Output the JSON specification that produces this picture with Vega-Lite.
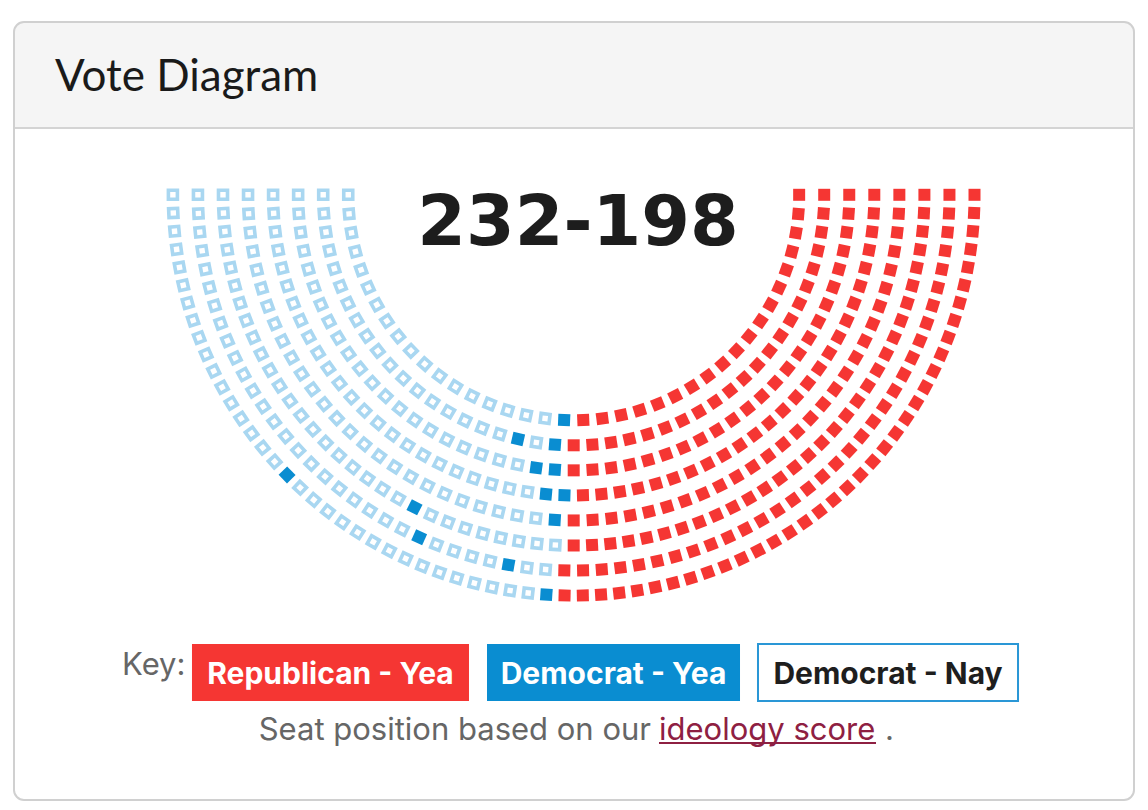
{
"$schema":"https://vega.github.io/schema/vega-lite/v6.json",
"width":1120,"height":778,
"autosize":{"type":"none"},
"padding":{"left":14,"top":22,"right":14,"bottom":10},
"background":"white",
"config":{"view":{"stroke":null},"axis":{"disable":true}},
"layer":[
{"data":{"values":[{}]},
 "mark":{"type":"rect","fill":"#f5f5f5","cornerRadiusTopLeft":10,"cornerRadiusTopRight":10},
 "encoding":{"x":{"value":0},"x2":{"value":"width"},"y":{"datum":6.898,"axis":null},"y2":{"datum":2.667}}},
{"data":{"values":[{}]},
 "mark":{"type":"rule","stroke":"#d4d4d4","strokeWidth":2},
 "encoding":{"x":{"value":0},"x2":{"value":"width"},"y":{"datum":2.667,"axis":null}}},
{"data":{"values":[{"title":"Vote Diagram"}]},
 "mark":{"type":"text","font":"Lato","fontSize":44,"align":"left","baseline":"alphabetic","color":"#1a1a1a"},
 "encoding":{"text":{"field":"title","type":"nominal"},"x":{"datum":-20.707,"axis":null},"y":{"datum":4.156,"axis":null}}},
{"data":{"values":[
{"row":1,"seat":0,"party":"D","vote":"Nay"},{"row":1,"seat":1,"party":"D","vote":"Nay"},{"row":1,"seat":2,"party":"D","vote":"Nay"},{"row":1,"seat":3,"party":"D","vote":"Nay"},{"row":1,"seat":4,"party":"D","vote":"Nay"},{"row":1,"seat":5,"party":"D","vote":"Nay"},{"row":1,"seat":6,"party":"D","vote":"Nay"},{"row":1,"seat":7,"party":"D","vote":"Nay"},{"row":1,"seat":8,"party":"D","vote":"Nay"},{"row":1,"seat":9,"party":"D","vote":"Nay"},{"row":1,"seat":10,"party":"D","vote":"Nay"},{"row":1,"seat":11,"party":"D","vote":"Nay"},{"row":1,"seat":12,"party":"D","vote":"Nay"},{"row":1,"seat":13,"party":"D","vote":"Nay"},{"row":1,"seat":14,"party":"D","vote":"Nay"},{"row":1,"seat":15,"party":"D","vote":"Nay"},{"row":1,"seat":16,"party":"D","vote":"Nay"},{"row":1,"seat":17,"party":"D","vote":"Nay"},{"row":1,"seat":18,"party":"D","vote":"Yea"},
{"row":1,"seat":19,"party":"R","vote":"Yea"},{"row":1,"seat":20,"party":"R","vote":"Yea"},{"row":1,"seat":21,"party":"R","vote":"Yea"},{"row":1,"seat":22,"party":"R","vote":"Yea"},{"row":1,"seat":23,"party":"R","vote":"Yea"},{"row":1,"seat":24,"party":"R","vote":"Yea"},{"row":1,"seat":25,"party":"R","vote":"Yea"},{"row":1,"seat":26,"party":"R","vote":"Yea"},{"row":1,"seat":27,"party":"R","vote":"Yea"},{"row":1,"seat":28,"party":"R","vote":"Yea"},{"row":1,"seat":29,"party":"R","vote":"Yea"},{"row":1,"seat":30,"party":"R","vote":"Yea"},{"row":1,"seat":31,"party":"R","vote":"Yea"},{"row":1,"seat":32,"party":"R","vote":"Yea"},{"row":1,"seat":33,"party":"R","vote":"Yea"},{"row":1,"seat":34,"party":"R","vote":"Yea"},{"row":1,"seat":35,"party":"R","vote":"Yea"},{"row":1,"seat":36,"party":"R","vote":"Yea"},{"row":1,"seat":37,"party":"R","vote":"Yea"},
{"row":2,"seat":0,"party":"D","vote":"Nay"},{"row":2,"seat":1,"party":"D","vote":"Nay"},{"row":2,"seat":2,"party":"D","vote":"Nay"},{"row":2,"seat":3,"party":"D","vote":"Nay"},{"row":2,"seat":4,"party":"D","vote":"Nay"},{"row":2,"seat":5,"party":"D","vote":"Nay"},{"row":2,"seat":6,"party":"D","vote":"Nay"},{"row":2,"seat":7,"party":"D","vote":"Nay"},{"row":2,"seat":8,"party":"D","vote":"Nay"},{"row":2,"seat":9,"party":"D","vote":"Nay"},{"row":2,"seat":10,"party":"D","vote":"Nay"},{"row":2,"seat":11,"party":"D","vote":"Nay"},{"row":2,"seat":12,"party":"D","vote":"Nay"},{"row":2,"seat":13,"party":"D","vote":"Nay"},{"row":2,"seat":14,"party":"D","vote":"Nay"},{"row":2,"seat":15,"party":"D","vote":"Nay"},{"row":2,"seat":16,"party":"D","vote":"Nay"},{"row":2,"seat":17,"party":"D","vote":"Nay"},{"row":2,"seat":18,"party":"D","vote":"Yea"},{"row":2,"seat":19,"party":"D","vote":"Nay"},{"row":2,"seat":20,"party":"D","vote":"Yea"},
{"row":2,"seat":21,"party":"R","vote":"Yea"},{"row":2,"seat":22,"party":"R","vote":"Yea"},{"row":2,"seat":23,"party":"R","vote":"Yea"},{"row":2,"seat":24,"party":"R","vote":"Yea"},{"row":2,"seat":25,"party":"R","vote":"Yea"},{"row":2,"seat":26,"party":"R","vote":"Yea"},{"row":2,"seat":27,"party":"R","vote":"Yea"},{"row":2,"seat":28,"party":"R","vote":"Yea"},{"row":2,"seat":29,"party":"R","vote":"Yea"},{"row":2,"seat":30,"party":"R","vote":"Yea"},{"row":2,"seat":31,"party":"R","vote":"Yea"},{"row":2,"seat":32,"party":"R","vote":"Yea"},{"row":2,"seat":33,"party":"R","vote":"Yea"},{"row":2,"seat":34,"party":"R","vote":"Yea"},{"row":2,"seat":35,"party":"R","vote":"Yea"},{"row":2,"seat":36,"party":"R","vote":"Yea"},{"row":2,"seat":37,"party":"R","vote":"Yea"},{"row":2,"seat":38,"party":"R","vote":"Yea"},{"row":2,"seat":39,"party":"R","vote":"Yea"},{"row":2,"seat":40,"party":"R","vote":"Yea"},{"row":2,"seat":41,"party":"R","vote":"Yea"},{"row":2,"seat":42,"party":"R","vote":"Yea"},
{"row":3,"seat":0,"party":"D","vote":"Nay"},{"row":3,"seat":1,"party":"D","vote":"Nay"},{"row":3,"seat":2,"party":"D","vote":"Nay"},{"row":3,"seat":3,"party":"D","vote":"Nay"},{"row":3,"seat":4,"party":"D","vote":"Nay"},{"row":3,"seat":5,"party":"D","vote":"Nay"},{"row":3,"seat":6,"party":"D","vote":"Nay"},{"row":3,"seat":7,"party":"D","vote":"Nay"},{"row":3,"seat":8,"party":"D","vote":"Nay"},{"row":3,"seat":9,"party":"D","vote":"Nay"},{"row":3,"seat":10,"party":"D","vote":"Nay"},{"row":3,"seat":11,"party":"D","vote":"Nay"},{"row":3,"seat":12,"party":"D","vote":"Nay"},{"row":3,"seat":13,"party":"D","vote":"Nay"},{"row":3,"seat":14,"party":"D","vote":"Nay"},{"row":3,"seat":15,"party":"D","vote":"Nay"},{"row":3,"seat":16,"party":"D","vote":"Nay"},{"row":3,"seat":17,"party":"D","vote":"Nay"},{"row":3,"seat":18,"party":"D","vote":"Nay"},{"row":3,"seat":19,"party":"D","vote":"Nay"},{"row":3,"seat":20,"party":"D","vote":"Nay"},{"row":3,"seat":21,"party":"D","vote":"Yea"},{"row":3,"seat":22,"party":"D","vote":"Yea"},
{"row":3,"seat":23,"party":"R","vote":"Yea"},{"row":3,"seat":24,"party":"R","vote":"Yea"},{"row":3,"seat":25,"party":"R","vote":"Yea"},{"row":3,"seat":26,"party":"R","vote":"Yea"},{"row":3,"seat":27,"party":"R","vote":"Yea"},{"row":3,"seat":28,"party":"R","vote":"Yea"},{"row":3,"seat":29,"party":"R","vote":"Yea"},{"row":3,"seat":30,"party":"R","vote":"Yea"},{"row":3,"seat":31,"party":"R","vote":"Yea"},{"row":3,"seat":32,"party":"R","vote":"Yea"},{"row":3,"seat":33,"party":"R","vote":"Yea"},{"row":3,"seat":34,"party":"R","vote":"Yea"},{"row":3,"seat":35,"party":"R","vote":"Yea"},{"row":3,"seat":36,"party":"R","vote":"Yea"},{"row":3,"seat":37,"party":"R","vote":"Yea"},{"row":3,"seat":38,"party":"R","vote":"Yea"},{"row":3,"seat":39,"party":"R","vote":"Yea"},{"row":3,"seat":40,"party":"R","vote":"Yea"},{"row":3,"seat":41,"party":"R","vote":"Yea"},{"row":3,"seat":42,"party":"R","vote":"Yea"},{"row":3,"seat":43,"party":"R","vote":"Yea"},{"row":3,"seat":44,"party":"R","vote":"Yea"},{"row":3,"seat":45,"party":"R","vote":"Yea"},{"row":3,"seat":46,"party":"R","vote":"Yea"},
{"row":4,"seat":0,"party":"D","vote":"Nay"},{"row":4,"seat":1,"party":"D","vote":"Nay"},{"row":4,"seat":2,"party":"D","vote":"Nay"},{"row":4,"seat":3,"party":"D","vote":"Nay"},{"row":4,"seat":4,"party":"D","vote":"Nay"},{"row":4,"seat":5,"party":"D","vote":"Nay"},{"row":4,"seat":6,"party":"D","vote":"Nay"},{"row":4,"seat":7,"party":"D","vote":"Nay"},{"row":4,"seat":8,"party":"D","vote":"Nay"},{"row":4,"seat":9,"party":"D","vote":"Nay"},{"row":4,"seat":10,"party":"D","vote":"Nay"},{"row":4,"seat":11,"party":"D","vote":"Nay"},{"row":4,"seat":12,"party":"D","vote":"Nay"},{"row":4,"seat":13,"party":"D","vote":"Nay"},{"row":4,"seat":14,"party":"D","vote":"Nay"},{"row":4,"seat":15,"party":"D","vote":"Nay"},{"row":4,"seat":16,"party":"D","vote":"Nay"},{"row":4,"seat":17,"party":"D","vote":"Nay"},{"row":4,"seat":18,"party":"D","vote":"Nay"},{"row":4,"seat":19,"party":"D","vote":"Nay"},{"row":4,"seat":20,"party":"D","vote":"Nay"},{"row":4,"seat":21,"party":"D","vote":"Nay"},{"row":4,"seat":22,"party":"D","vote":"Nay"},{"row":4,"seat":23,"party":"D","vote":"Nay"},{"row":4,"seat":24,"party":"D","vote":"Yea"},{"row":4,"seat":25,"party":"D","vote":"Yea"},
{"row":4,"seat":26,"party":"R","vote":"Yea"},{"row":4,"seat":27,"party":"R","vote":"Yea"},{"row":4,"seat":28,"party":"R","vote":"Yea"},{"row":4,"seat":29,"party":"R","vote":"Yea"},{"row":4,"seat":30,"party":"R","vote":"Yea"},{"row":4,"seat":31,"party":"R","vote":"Yea"},{"row":4,"seat":32,"party":"R","vote":"Yea"},{"row":4,"seat":33,"party":"R","vote":"Yea"},{"row":4,"seat":34,"party":"R","vote":"Yea"},{"row":4,"seat":35,"party":"R","vote":"Yea"},{"row":4,"seat":36,"party":"R","vote":"Yea"},{"row":4,"seat":37,"party":"R","vote":"Yea"},{"row":4,"seat":38,"party":"R","vote":"Yea"},{"row":4,"seat":39,"party":"R","vote":"Yea"},{"row":4,"seat":40,"party":"R","vote":"Yea"},{"row":4,"seat":41,"party":"R","vote":"Yea"},{"row":4,"seat":42,"party":"R","vote":"Yea"},{"row":4,"seat":43,"party":"R","vote":"Yea"},{"row":4,"seat":44,"party":"R","vote":"Yea"},{"row":4,"seat":45,"party":"R","vote":"Yea"},{"row":4,"seat":46,"party":"R","vote":"Yea"},{"row":4,"seat":47,"party":"R","vote":"Yea"},{"row":4,"seat":48,"party":"R","vote":"Yea"},{"row":4,"seat":49,"party":"R","vote":"Yea"},{"row":4,"seat":50,"party":"R","vote":"Yea"},{"row":4,"seat":51,"party":"R","vote":"Yea"},
{"row":5,"seat":0,"party":"D","vote":"Nay"},{"row":5,"seat":1,"party":"D","vote":"Nay"},{"row":5,"seat":2,"party":"D","vote":"Nay"},{"row":5,"seat":3,"party":"D","vote":"Nay"},{"row":5,"seat":4,"party":"D","vote":"Nay"},{"row":5,"seat":5,"party":"D","vote":"Nay"},{"row":5,"seat":6,"party":"D","vote":"Nay"},{"row":5,"seat":7,"party":"D","vote":"Nay"},{"row":5,"seat":8,"party":"D","vote":"Nay"},{"row":5,"seat":9,"party":"D","vote":"Nay"},{"row":5,"seat":10,"party":"D","vote":"Nay"},{"row":5,"seat":11,"party":"D","vote":"Nay"},{"row":5,"seat":12,"party":"D","vote":"Nay"},{"row":5,"seat":13,"party":"D","vote":"Nay"},{"row":5,"seat":14,"party":"D","vote":"Nay"},{"row":5,"seat":15,"party":"D","vote":"Nay"},{"row":5,"seat":16,"party":"D","vote":"Nay"},{"row":5,"seat":17,"party":"D","vote":"Nay"},{"row":5,"seat":18,"party":"D","vote":"Nay"},{"row":5,"seat":19,"party":"D","vote":"Nay"},{"row":5,"seat":20,"party":"D","vote":"Nay"},{"row":5,"seat":21,"party":"D","vote":"Nay"},{"row":5,"seat":22,"party":"D","vote":"Nay"},{"row":5,"seat":23,"party":"D","vote":"Nay"},{"row":5,"seat":24,"party":"D","vote":"Nay"},{"row":5,"seat":25,"party":"D","vote":"Nay"},{"row":5,"seat":26,"party":"D","vote":"Yea"},
{"row":5,"seat":27,"party":"R","vote":"Yea"},{"row":5,"seat":28,"party":"R","vote":"Yea"},{"row":5,"seat":29,"party":"R","vote":"Yea"},{"row":5,"seat":30,"party":"R","vote":"Yea"},{"row":5,"seat":31,"party":"R","vote":"Yea"},{"row":5,"seat":32,"party":"R","vote":"Yea"},{"row":5,"seat":33,"party":"R","vote":"Yea"},{"row":5,"seat":34,"party":"R","vote":"Yea"},{"row":5,"seat":35,"party":"R","vote":"Yea"},{"row":5,"seat":36,"party":"R","vote":"Yea"},{"row":5,"seat":37,"party":"R","vote":"Yea"},{"row":5,"seat":38,"party":"R","vote":"Yea"},{"row":5,"seat":39,"party":"R","vote":"Yea"},{"row":5,"seat":40,"party":"R","vote":"Yea"},{"row":5,"seat":41,"party":"R","vote":"Yea"},{"row":5,"seat":42,"party":"R","vote":"Yea"},{"row":5,"seat":43,"party":"R","vote":"Yea"},{"row":5,"seat":44,"party":"R","vote":"Yea"},{"row":5,"seat":45,"party":"R","vote":"Yea"},{"row":5,"seat":46,"party":"R","vote":"Yea"},{"row":5,"seat":47,"party":"R","vote":"Yea"},{"row":5,"seat":48,"party":"R","vote":"Yea"},{"row":5,"seat":49,"party":"R","vote":"Yea"},{"row":5,"seat":50,"party":"R","vote":"Yea"},{"row":5,"seat":51,"party":"R","vote":"Yea"},{"row":5,"seat":52,"party":"R","vote":"Yea"},{"row":5,"seat":53,"party":"R","vote":"Yea"},{"row":5,"seat":54,"party":"R","vote":"Yea"},
{"row":6,"seat":0,"party":"D","vote":"Nay"},{"row":6,"seat":1,"party":"D","vote":"Nay"},{"row":6,"seat":2,"party":"D","vote":"Nay"},{"row":6,"seat":3,"party":"D","vote":"Nay"},{"row":6,"seat":4,"party":"D","vote":"Nay"},{"row":6,"seat":5,"party":"D","vote":"Nay"},{"row":6,"seat":6,"party":"D","vote":"Nay"},{"row":6,"seat":7,"party":"D","vote":"Nay"},{"row":6,"seat":8,"party":"D","vote":"Nay"},{"row":6,"seat":9,"party":"D","vote":"Nay"},{"row":6,"seat":10,"party":"D","vote":"Nay"},{"row":6,"seat":11,"party":"D","vote":"Nay"},{"row":6,"seat":12,"party":"D","vote":"Nay"},{"row":6,"seat":13,"party":"D","vote":"Nay"},{"row":6,"seat":14,"party":"D","vote":"Nay"},{"row":6,"seat":15,"party":"D","vote":"Nay"},{"row":6,"seat":16,"party":"D","vote":"Nay"},{"row":6,"seat":17,"party":"D","vote":"Nay"},{"row":6,"seat":18,"party":"D","vote":"Nay"},{"row":6,"seat":19,"party":"D","vote":"Nay"},{"row":6,"seat":20,"party":"D","vote":"Nay"},{"row":6,"seat":21,"party":"D","vote":"Yea"},{"row":6,"seat":22,"party":"D","vote":"Nay"},{"row":6,"seat":23,"party":"D","vote":"Nay"},{"row":6,"seat":24,"party":"D","vote":"Nay"},{"row":6,"seat":25,"party":"D","vote":"Nay"},{"row":6,"seat":26,"party":"D","vote":"Nay"},{"row":6,"seat":27,"party":"D","vote":"Nay"},{"row":6,"seat":28,"party":"D","vote":"Nay"},{"row":6,"seat":29,"party":"D","vote":"Nay"},
{"row":6,"seat":30,"party":"R","vote":"Yea"},{"row":6,"seat":31,"party":"R","vote":"Yea"},{"row":6,"seat":32,"party":"R","vote":"Yea"},{"row":6,"seat":33,"party":"R","vote":"Yea"},{"row":6,"seat":34,"party":"R","vote":"Yea"},{"row":6,"seat":35,"party":"R","vote":"Yea"},{"row":6,"seat":36,"party":"R","vote":"Yea"},{"row":6,"seat":37,"party":"R","vote":"Yea"},{"row":6,"seat":38,"party":"R","vote":"Yea"},{"row":6,"seat":39,"party":"R","vote":"Yea"},{"row":6,"seat":40,"party":"R","vote":"Yea"},{"row":6,"seat":41,"party":"R","vote":"Yea"},{"row":6,"seat":42,"party":"R","vote":"Yea"},{"row":6,"seat":43,"party":"R","vote":"Yea"},{"row":6,"seat":44,"party":"R","vote":"Yea"},{"row":6,"seat":45,"party":"R","vote":"Yea"},{"row":6,"seat":46,"party":"R","vote":"Yea"},{"row":6,"seat":47,"party":"R","vote":"Yea"},{"row":6,"seat":48,"party":"R","vote":"Yea"},{"row":6,"seat":49,"party":"R","vote":"Yea"},{"row":6,"seat":50,"party":"R","vote":"Yea"},{"row":6,"seat":51,"party":"R","vote":"Yea"},{"row":6,"seat":52,"party":"R","vote":"Yea"},{"row":6,"seat":53,"party":"R","vote":"Yea"},{"row":6,"seat":54,"party":"R","vote":"Yea"},{"row":6,"seat":55,"party":"R","vote":"Yea"},{"row":6,"seat":56,"party":"R","vote":"Yea"},{"row":6,"seat":57,"party":"R","vote":"Yea"},{"row":6,"seat":58,"party":"R","vote":"Yea"},{"row":6,"seat":59,"party":"R","vote":"Yea"},{"row":6,"seat":60,"party":"R","vote":"Yea"},
{"row":7,"seat":0,"party":"D","vote":"Nay"},{"row":7,"seat":1,"party":"D","vote":"Nay"},{"row":7,"seat":2,"party":"D","vote":"Nay"},{"row":7,"seat":3,"party":"D","vote":"Nay"},{"row":7,"seat":4,"party":"D","vote":"Nay"},{"row":7,"seat":5,"party":"D","vote":"Nay"},{"row":7,"seat":6,"party":"D","vote":"Nay"},{"row":7,"seat":7,"party":"D","vote":"Nay"},{"row":7,"seat":8,"party":"D","vote":"Nay"},{"row":7,"seat":9,"party":"D","vote":"Nay"},{"row":7,"seat":10,"party":"D","vote":"Nay"},{"row":7,"seat":11,"party":"D","vote":"Nay"},{"row":7,"seat":12,"party":"D","vote":"Nay"},{"row":7,"seat":13,"party":"D","vote":"Nay"},{"row":7,"seat":14,"party":"D","vote":"Nay"},{"row":7,"seat":15,"party":"D","vote":"Nay"},{"row":7,"seat":16,"party":"D","vote":"Nay"},{"row":7,"seat":17,"party":"D","vote":"Nay"},{"row":7,"seat":18,"party":"D","vote":"Nay"},{"row":7,"seat":19,"party":"D","vote":"Nay"},{"row":7,"seat":20,"party":"D","vote":"Nay"},{"row":7,"seat":21,"party":"D","vote":"Nay"},{"row":7,"seat":22,"party":"D","vote":"Nay"},{"row":7,"seat":23,"party":"D","vote":"Yea"},{"row":7,"seat":24,"party":"D","vote":"Nay"},{"row":7,"seat":25,"party":"D","vote":"Nay"},{"row":7,"seat":26,"party":"D","vote":"Nay"},{"row":7,"seat":27,"party":"D","vote":"Nay"},{"row":7,"seat":28,"party":"D","vote":"Yea"},{"row":7,"seat":29,"party":"D","vote":"Nay"},{"row":7,"seat":30,"party":"D","vote":"Nay"},
{"row":7,"seat":31,"party":"R","vote":"Yea"},{"row":7,"seat":32,"party":"R","vote":"Yea"},{"row":7,"seat":33,"party":"R","vote":"Yea"},{"row":7,"seat":34,"party":"R","vote":"Yea"},{"row":7,"seat":35,"party":"R","vote":"Yea"},{"row":7,"seat":36,"party":"R","vote":"Yea"},{"row":7,"seat":37,"party":"R","vote":"Yea"},{"row":7,"seat":38,"party":"R","vote":"Yea"},{"row":7,"seat":39,"party":"R","vote":"Yea"},{"row":7,"seat":40,"party":"R","vote":"Yea"},{"row":7,"seat":41,"party":"R","vote":"Yea"},{"row":7,"seat":42,"party":"R","vote":"Yea"},{"row":7,"seat":43,"party":"R","vote":"Yea"},{"row":7,"seat":44,"party":"R","vote":"Yea"},{"row":7,"seat":45,"party":"R","vote":"Yea"},{"row":7,"seat":46,"party":"R","vote":"Yea"},{"row":7,"seat":47,"party":"R","vote":"Yea"},{"row":7,"seat":48,"party":"R","vote":"Yea"},{"row":7,"seat":49,"party":"R","vote":"Yea"},{"row":7,"seat":50,"party":"R","vote":"Yea"},{"row":7,"seat":51,"party":"R","vote":"Yea"},{"row":7,"seat":52,"party":"R","vote":"Yea"},{"row":7,"seat":53,"party":"R","vote":"Yea"},{"row":7,"seat":54,"party":"R","vote":"Yea"},{"row":7,"seat":55,"party":"R","vote":"Yea"},{"row":7,"seat":56,"party":"R","vote":"Yea"},{"row":7,"seat":57,"party":"R","vote":"Yea"},{"row":7,"seat":58,"party":"R","vote":"Yea"},{"row":7,"seat":59,"party":"R","vote":"Yea"},{"row":7,"seat":60,"party":"R","vote":"Yea"},{"row":7,"seat":61,"party":"R","vote":"Yea"},{"row":7,"seat":62,"party":"R","vote":"Yea"},{"row":7,"seat":63,"party":"R","vote":"Yea"},
{"row":8,"seat":0,"party":"D","vote":"Nay"},{"row":8,"seat":1,"party":"D","vote":"Nay"},{"row":8,"seat":2,"party":"D","vote":"Nay"},{"row":8,"seat":3,"party":"D","vote":"Nay"},{"row":8,"seat":4,"party":"D","vote":"Nay"},{"row":8,"seat":5,"party":"D","vote":"Nay"},{"row":8,"seat":6,"party":"D","vote":"Nay"},{"row":8,"seat":7,"party":"D","vote":"Nay"},{"row":8,"seat":8,"party":"D","vote":"Nay"},{"row":8,"seat":9,"party":"D","vote":"Nay"},{"row":8,"seat":10,"party":"D","vote":"Nay"},{"row":8,"seat":11,"party":"D","vote":"Nay"},{"row":8,"seat":12,"party":"D","vote":"Nay"},{"row":8,"seat":13,"party":"D","vote":"Nay"},{"row":8,"seat":14,"party":"D","vote":"Nay"},{"row":8,"seat":15,"party":"D","vote":"Nay"},{"row":8,"seat":16,"party":"D","vote":"Nay"},{"row":8,"seat":17,"party":"D","vote":"Yea"},{"row":8,"seat":18,"party":"D","vote":"Nay"},{"row":8,"seat":19,"party":"D","vote":"Nay"},{"row":8,"seat":20,"party":"D","vote":"Nay"},{"row":8,"seat":21,"party":"D","vote":"Nay"},{"row":8,"seat":22,"party":"D","vote":"Nay"},{"row":8,"seat":23,"party":"D","vote":"Nay"},{"row":8,"seat":24,"party":"D","vote":"Nay"},{"row":8,"seat":25,"party":"D","vote":"Nay"},{"row":8,"seat":26,"party":"D","vote":"Nay"},{"row":8,"seat":27,"party":"D","vote":"Nay"},{"row":8,"seat":28,"party":"D","vote":"Nay"},{"row":8,"seat":29,"party":"D","vote":"Nay"},{"row":8,"seat":30,"party":"D","vote":"Nay"},{"row":8,"seat":31,"party":"D","vote":"Nay"},{"row":8,"seat":32,"party":"D","vote":"Nay"},{"row":8,"seat":33,"party":"D","vote":"Yea"},
{"row":8,"seat":34,"party":"R","vote":"Yea"},{"row":8,"seat":35,"party":"R","vote":"Yea"},{"row":8,"seat":36,"party":"R","vote":"Yea"},{"row":8,"seat":37,"party":"R","vote":"Yea"},{"row":8,"seat":38,"party":"R","vote":"Yea"},{"row":8,"seat":39,"party":"R","vote":"Yea"},{"row":8,"seat":40,"party":"R","vote":"Yea"},{"row":8,"seat":41,"party":"R","vote":"Yea"},{"row":8,"seat":42,"party":"R","vote":"Yea"},{"row":8,"seat":43,"party":"R","vote":"Yea"},{"row":8,"seat":44,"party":"R","vote":"Yea"},{"row":8,"seat":45,"party":"R","vote":"Yea"},{"row":8,"seat":46,"party":"R","vote":"Yea"},{"row":8,"seat":47,"party":"R","vote":"Yea"},{"row":8,"seat":48,"party":"R","vote":"Yea"},{"row":8,"seat":49,"party":"R","vote":"Yea"},{"row":8,"seat":50,"party":"R","vote":"Yea"},{"row":8,"seat":51,"party":"R","vote":"Yea"},{"row":8,"seat":52,"party":"R","vote":"Yea"},{"row":8,"seat":53,"party":"R","vote":"Yea"},{"row":8,"seat":54,"party":"R","vote":"Yea"},{"row":8,"seat":55,"party":"R","vote":"Yea"},{"row":8,"seat":56,"party":"R","vote":"Yea"},{"row":8,"seat":57,"party":"R","vote":"Yea"},{"row":8,"seat":58,"party":"R","vote":"Yea"},{"row":8,"seat":59,"party":"R","vote":"Yea"},{"row":8,"seat":60,"party":"R","vote":"Yea"},{"row":8,"seat":61,"party":"R","vote":"Yea"},{"row":8,"seat":62,"party":"R","vote":"Yea"},{"row":8,"seat":63,"party":"R","vote":"Yea"},{"row":8,"seat":64,"party":"R","vote":"Yea"},{"row":8,"seat":65,"party":"R","vote":"Yea"},{"row":8,"seat":66,"party":"R","vote":"Yea"},{"row":8,"seat":67,"party":"R","vote":"Yea"},{"row":8,"seat":68,"party":"R","vote":"Yea"},{"row":8,"seat":69,"party":"R","vote":"Yea"}
]},
 "transform":[
  {"joinaggregate":[{"op":"count","as":"n"}],"groupby":["row"]},
  {"calculate":"PI*datum.seat/(datum.n-1)","as":"phi"},
  {"calculate":"datum.row+8","as":"radius"},
  {"calculate":"-datum.radius*cos(datum.phi)","as":"px"},
  {"calculate":"-datum.radius*sin(datum.phi)","as":"py"},
  {"calculate":"90-datum.phi*180/PI","as":"rot"},
  {"calculate":"(datum.party==='D'?'Democrat':'Republican')+' - '+datum.vote","as":"group"}
 ],
 "mark":{"type":"point","shape":"square","strokeWidth":3.6,"opacity":1,"filled":true},
 "encoding":{
  "x":{"field":"px","type":"quantitative","axis":null,"scale":{"domain":[-22.343,22.367],"nice":false,"zero":false}},
  "y":{"field":"py","type":"quantitative","axis":null,"scale":{"domain":[-24.16,6.898],"nice":false,"zero":false}},
  "angle":{"field":"rot","type":"quantitative","scale":null},
  "size":{"condition":{"test":"datum.vote === 'Nay'","value":81},"value":144},
  "stroke":{"condition":{"test":"datum.vote === 'Nay'","value":"#a9d7f1"},"value":"transparent"},
  "fill":{"field":"group","type":"nominal","legend":null,
   "scale":{"domain":["Republican - Yea","Democrat - Yea","Democrat - Nay"],"range":["#f53633","#0a8dd1","#ffffff"]}}
 }},
{"data":{"values":[{"tally":"232-198"}]},
 "mark":{"type":"text","font":"DejaVu Sans","fontWeight":"bold","fontSize":70,"align":"center","baseline":"alphabetic","color":"#1d1d1d"},
 "encoding":{"text":{"field":"tally","type":"nominal"},"x":{"datum":0.17,"axis":null},"y":{"datum":-2.0,"axis":null}}},
{"data":{"values":[{"key":"Key:"}]},
 "mark":{"type":"text","font":"Inter","fontSize":31,"align":"left","baseline":"alphabetic","color":"#666666"},
 "encoding":{"text":{"field":"key","type":"nominal"},"x":{"datum":-18.03,"axis":null},"y":{"datum":-19.17,"axis":null}}},
{"data":{"values":[{}]},
 "mark":{"type":"rect","fill":"#f53633"},
 "encoding":{"x":{"datum":-15.238,"axis":null},"x2":{"datum":-4.18},"y":{"datum":-17.932,"axis":null},"y2":{"datum":-20.208}}},
{"data":{"values":[{}]},
 "mark":{"type":"rect","fill":"#0a8dd1"},
 "encoding":{"x":{"datum":-3.461,"axis":null},"x2":{"datum":6.639},"y":{"datum":-17.932,"axis":null},"y2":{"datum":-20.208}}},
{"data":{"values":[{}]},
 "mark":{"type":"rect","fill":"#ffffff","stroke":"#2a97d6","strokeWidth":2},
 "encoding":{"x":{"datum":7.357,"axis":null},"x2":{"datum":17.737},"y":{"datum":-17.932,"axis":null},"y2":{"datum":-20.208}}},
{"data":{"values":[{"label":"Republican - Yea"}]},
 "mark":{"type":"text","font":"Inter","fontSize":30,"fontWeight":"bold","align":"center","baseline":"alphabetic","color":"#ffffff"},
 "encoding":{"text":{"field":"label","type":"nominal"},"x":{"datum":-9.709,"axis":null},"y":{"datum":-19.529,"axis":null}}},
{"data":{"values":[{"label":"Democrat - Yea"}]},
 "mark":{"type":"text","font":"Inter","fontSize":30,"fontWeight":"bold","align":"center","baseline":"alphabetic","color":"#ffffff"},
 "encoding":{"text":{"field":"label","type":"nominal"},"x":{"datum":1.589,"axis":null},"y":{"datum":-19.529,"axis":null}}},
{"data":{"values":[{"label":"Democrat - Nay"}]},
 "mark":{"type":"text","font":"Inter","fontSize":30,"fontWeight":"bold","align":"center","baseline":"alphabetic","color":"#1e1e1e"},
 "encoding":{"text":{"field":"label","type":"nominal"},"x":{"datum":12.547,"axis":null},"y":{"datum":-19.529,"axis":null}}},
{"data":{"values":[{"note":"Seat position based on our"}]},
 "mark":{"type":"text","font":"Inter","fontSize":31,"align":"right","baseline":"alphabetic","color":"#666666"},
 "encoding":{"text":{"field":"note","type":"nominal"},"x":{"datum":3.086,"axis":null},"y":{"datum":-21.765,"axis":null}}},
{"data":{"values":[{"note":"ideology score"}]},
 "mark":{"type":"text","font":"Inter","fontSize":31,"align":"left","baseline":"alphabetic","color":"#8e2042"},
 "encoding":{"text":{"field":"note","type":"nominal"},"x":{"datum":3.405,"axis":null},"y":{"datum":-21.765,"axis":null}}},
{"data":{"values":[{"note":"."}]},
 "mark":{"type":"text","font":"Inter","fontSize":31,"align":"left","baseline":"alphabetic","color":"#666666"},
 "encoding":{"text":{"field":"note","type":"nominal"},"x":{"datum":12.43,"axis":null},"y":{"datum":-21.765,"axis":null}}},
{"data":{"values":[{}]},
 "mark":{"type":"rule","stroke":"#8e2042","strokeWidth":2},
 "encoding":{"x":{"datum":3.405,"axis":null},"x2":{"datum":12.068},"y":{"datum":-21.885,"axis":null}}},
{"data":{"values":[{}]},
 "mark":{"type":"rect","fill":"#ffffff","fillOpacity":0,"stroke":"#d0d0d0","strokeWidth":2,"cornerRadius":10},
 "encoding":{"x":{"value":0},"x2":{"value":"width"},"y":{"value":0},"y2":{"value":"height"}}}
]
}
